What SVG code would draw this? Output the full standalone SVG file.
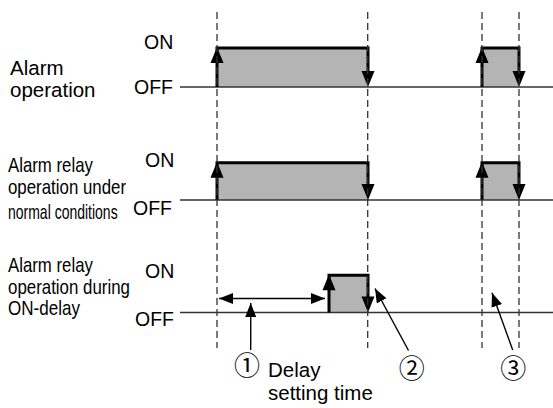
<svg xmlns="http://www.w3.org/2000/svg" width="553" height="408" viewBox="0 0 553 408">
<style>
.t{font-family:"Liberation Sans",Arial,sans-serif;fill:#000}
.lbl{font-size:20.5px}
.nl{font-size:20px}
.lv{font-size:19.5px}
.cn{font-family:"Noto Sans CJK JP","DejaVu Sans",sans-serif;font-size:26px;fill:#000;text-anchor:middle}
.fill{fill:#b4b4b4;stroke:none}
.edge{fill:none;stroke:#000;stroke-width:3;stroke-linejoin:miter}
.head{fill:#000;stroke:none}
.base{stroke:#333;stroke-width:1.5}
.dash{stroke:#333;stroke-width:1.3;stroke-dasharray:7 4;fill:none}
.ptr{stroke:#000;stroke-width:1.4;fill:none}
</style>
<defs>
<marker id="sm" markerUnits="userSpaceOnUse" markerWidth="16" markerHeight="12" refX="14" refY="5.5" orient="auto-start-reverse">
<path d="M0,0 L14,5.5 L0,11 z" fill="#000"/>
</marker>
</defs>

<g id="row1">
<text class="t lbl" x="10" y="75">Alarm</text>
<text class="t lbl" x="10" y="97">operation</text>
<text class="t lv" x="144" y="49">ON</text>
<text class="t lv" x="134" y="93.5">OFF</text>
<rect class="fill" x="217" y="48" width="151" height="39"/>
<rect class="fill" x="482" y="48" width="37" height="39"/>
<line class="base" x1="180" y1="87" x2="553" y2="87"/>
<path class="edge" d="M217,87 V48 H368 V80"/>
<path class="edge" d="M482,87 V48 H519 V80"/>
<path class="head" d="M217,47 L210.5,63 L223.5,63 z"/>
<path class="head" d="M368,87 L361.5,71 L374.5,71 z"/>
<path class="head" d="M482,47 L475.5,63 L488.5,63 z"/>
<path class="head" d="M519,87 L512.5,71 L525.5,71 z"/>
</g>

<g id="row2">
<text class="t nl" transform="translate(8,172) scale(0.84,1)">Alarm relay</text>
<text class="t nl" transform="translate(8,193.5) scale(0.843,1)">operation under</text>
<text class="t nl" transform="translate(8,219) scale(0.70,1)">normal conditions</text>
<text class="t lv" x="145" y="167">ON</text>
<text class="t lv" x="133" y="215">OFF</text>
<rect class="fill" x="217" y="162.7" width="151" height="37.3"/>
<rect class="fill" x="482" y="162.7" width="37" height="37.3"/>
<line class="base" x1="180" y1="200" x2="553" y2="200"/>
<path class="edge" d="M217,200 V162.7 H368 V193"/>
<path class="edge" d="M482,200 V162.7 H519 V193"/>
<path class="head" d="M217,161.7 L210.5,177.7 L223.5,177.7 z"/>
<path class="head" d="M368,200 L361.5,184 L374.5,184 z"/>
<path class="head" d="M482,161.7 L475.5,177.7 L488.5,177.7 z"/>
<path class="head" d="M519,200 L512.5,184 L525.5,184 z"/>
</g>

<g id="row3">
<text class="t nl" transform="translate(8,272) scale(0.84,1)">Alarm relay</text>
<text class="t nl" transform="translate(8,293.5) scale(0.844,1)">operation during</text>
<text class="t nl" transform="translate(8,315) scale(0.852,1)">ON-delay</text>
<text class="t lv" x="145" y="278.3">ON</text>
<text class="t lv" x="135" y="326">OFF</text>
<rect class="fill" x="329" y="275.3" width="39" height="37.2"/>
<line class="base" x1="180" y1="312.5" x2="553" y2="312.5"/>
<path class="edge" d="M329,312.5 V275.3 H368 V305"/>
<path class="head" d="M329,274.3 L322.5,290.3 L335.5,290.3 z"/>
<path class="head" d="M368,312.5 L361.5,296.5 L374.5,296.5 z"/>
</g>

<g id="connectors">
<line class="dash" x1="217" y1="12" x2="217" y2="348"/>
<line class="dash" x1="367.7" y1="12" x2="367.7" y2="348"/>
<line class="dash" x1="482" y1="12" x2="482" y2="348"/>
<line class="dash" x1="519" y1="12" x2="519" y2="348"/>
<line class="ptr" x1="219" y1="298.5" x2="325" y2="298.5" marker-start="url(#sm)" marker-end="url(#sm)"/>
<line class="ptr" x1="250.7" y1="350" x2="250.7" y2="303" marker-end="url(#sm)"/>
<line class="ptr" x1="408.5" y1="350.5" x2="375" y2="288.5" marker-end="url(#sm)"/>
<line class="ptr" x1="512.7" y1="350" x2="492" y2="292.7" marker-end="url(#sm)"/>
</g>

<g id="annotations">
<text class="cn" x="247" y="375">①</text>
<text class="t lbl" x="268" y="377">Delay</text>
<text class="t lbl" x="268" y="400">setting time</text>
<text class="cn" x="411.7" y="378">②</text>
<text class="cn" x="513.3" y="378">③</text>
</g>
</svg>
